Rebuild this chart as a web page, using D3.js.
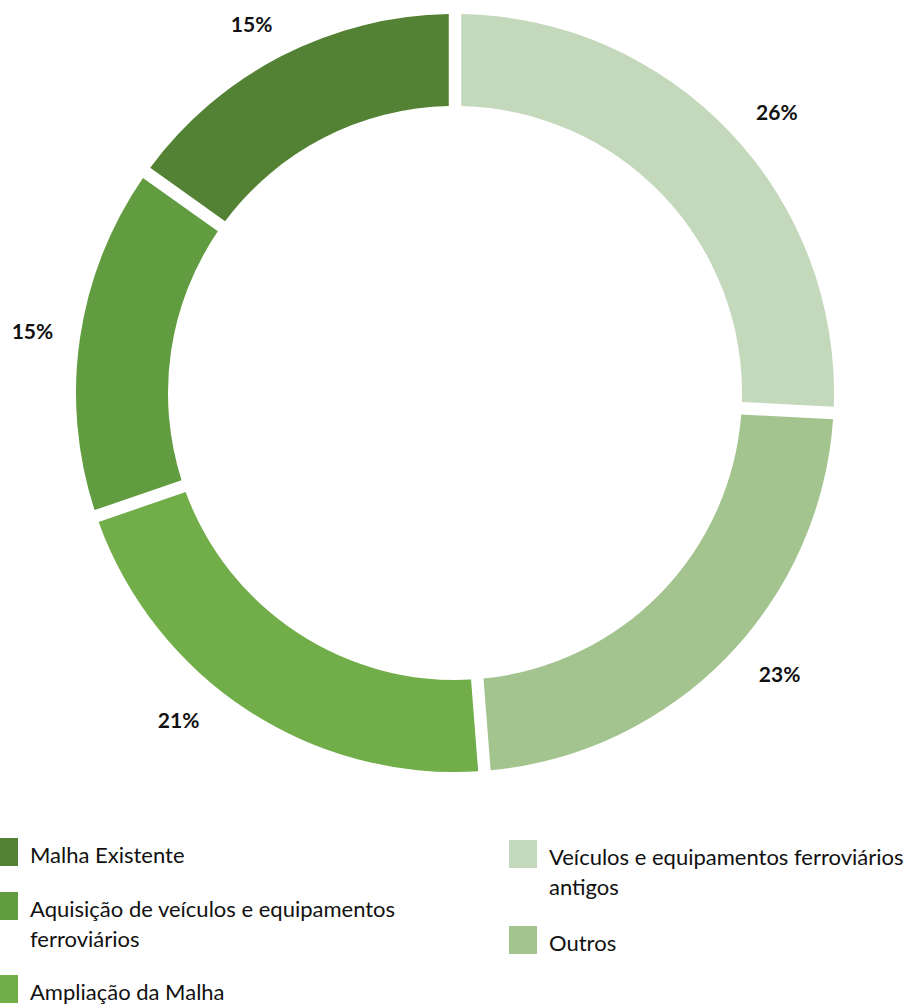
<!DOCTYPE html>
<html>
<head>
<meta charset="utf-8">
<script src="https://cdn.jsdelivr.net/npm/d3@7"></script>
<style>
  html, body { margin: 0; padding: 0; background: #fff; }
  svg { display: block; }
  text { font-family: Lato, "Open Sans", sans-serif; fill: #111; }
</style>
</head>
<body>
<svg id="chart" width="915" height="1006"></svg>
<script>
// Investment shares by category (percent), clockwise from 12 o'clock
const categories = [
  "Veículos e equipamentos ferroviários antigos",
  "Outros",
  "Ampliação da Malha",
  "Aquisição de veículos e equipamentos ferroviários",
  "Malha Existente"
];
const shares = [26, 23, 21, 15, 15];
const colors = ["#c4d8bb", "#a3c48f", "#71ad48", "#629c40", "#548235"];

// Legend entries (display order and wrapped lines)
const legendLeft = [
  { key: "Malha Existente", lines: ["Malha Existente"] },
  { key: "Aquisição de veículos e equipamentos ferroviários", lines: ["Aquisição de veículos e equipamentos", "ferroviários"] },
  { key: "Ampliação da Malha", lines: ["Ampliação da Malha"] }
];
const legendRight = [
  { key: "Veículos e equipamentos ferroviários antigos", lines: ["Veículos e equipamentos ferroviários", "antigos"] },
  { key: "Outros", lines: ["Outros"] }
];

const svg = d3.select("#chart");
const cx = 455, cy = 393;
const outerR = 379, innerR = 287;
const gap = 12.5;

const color = d3.scaleOrdinal().domain(categories).range(colors);
const data = categories.map((c, i) => ({ category: c, value: shares[i] }));

const pie = d3.pie().value(d => d.value).sort(null)
  .padAngle(gap / outerR);
const arc = d3.arc().innerRadius(innerR).outerRadius(outerR).padRadius(outerR);
const arcs = pie(data);

const g = svg.append("g").attr("transform", `translate(${cx},${cy})`);

g.selectAll("path.slice")
  .data(arcs)
  .join("path")
  .attr("class", "slice")
  .attr("d", arc)
  .attr("fill", d => color(d.data.category));

// Percentage labels outside the ring, with small placement adjustments
const labelArc = d3.arc().innerRadius(427).outerRadius(427);
const labelNudge = [[12, 13], [19, -17], [-42, -29], [0, 0], [-8, 11]];
g.selectAll("text.pct")
  .data(arcs)
  .join("text")
  .attr("class", "pct")
  .attr("text-anchor", "middle")
  .attr("font-weight", "bold")
  .attr("font-size", 21)
  .attr("x", (d, i) => labelArc.centroid({ ...d, padAngle: 0 })[0] + labelNudge[i][0])
  .attr("y", (d, i) => labelArc.centroid({ ...d, padAngle: 0 })[1] + labelNudge[i][1])
  .attr("dy", "0.36em")
  .text(d => d.data.value + "%");

// Legend
const sw = 28, lineH = 30, fontSize = 22;
function drawLegend(items, x0, tops, textX) {
  const lg = svg.append("g");
  items.forEach((it, i) => {
    const top = tops[i];
    lg.append("rect")
      .attr("x", x0).attr("y", top)
      .attr("width", sw).attr("height", sw)
      .attr("fill", color(it.key));
    const t = lg.append("text")
      .attr("font-size", fontSize)
      .attr("x", textX)
      .attr("y", top + 25);
    it.lines.forEach((ln, j) => {
      t.append("tspan").attr("x", textX).attr("dy", j === 0 ? 0 : lineH).text(ln);
    });
  });
}
drawLegend(legendLeft, -10, [838, 892, 975], 30);
drawLegend(legendRight, 509, [840, 926], 549);
</script>
</body>
</html>
